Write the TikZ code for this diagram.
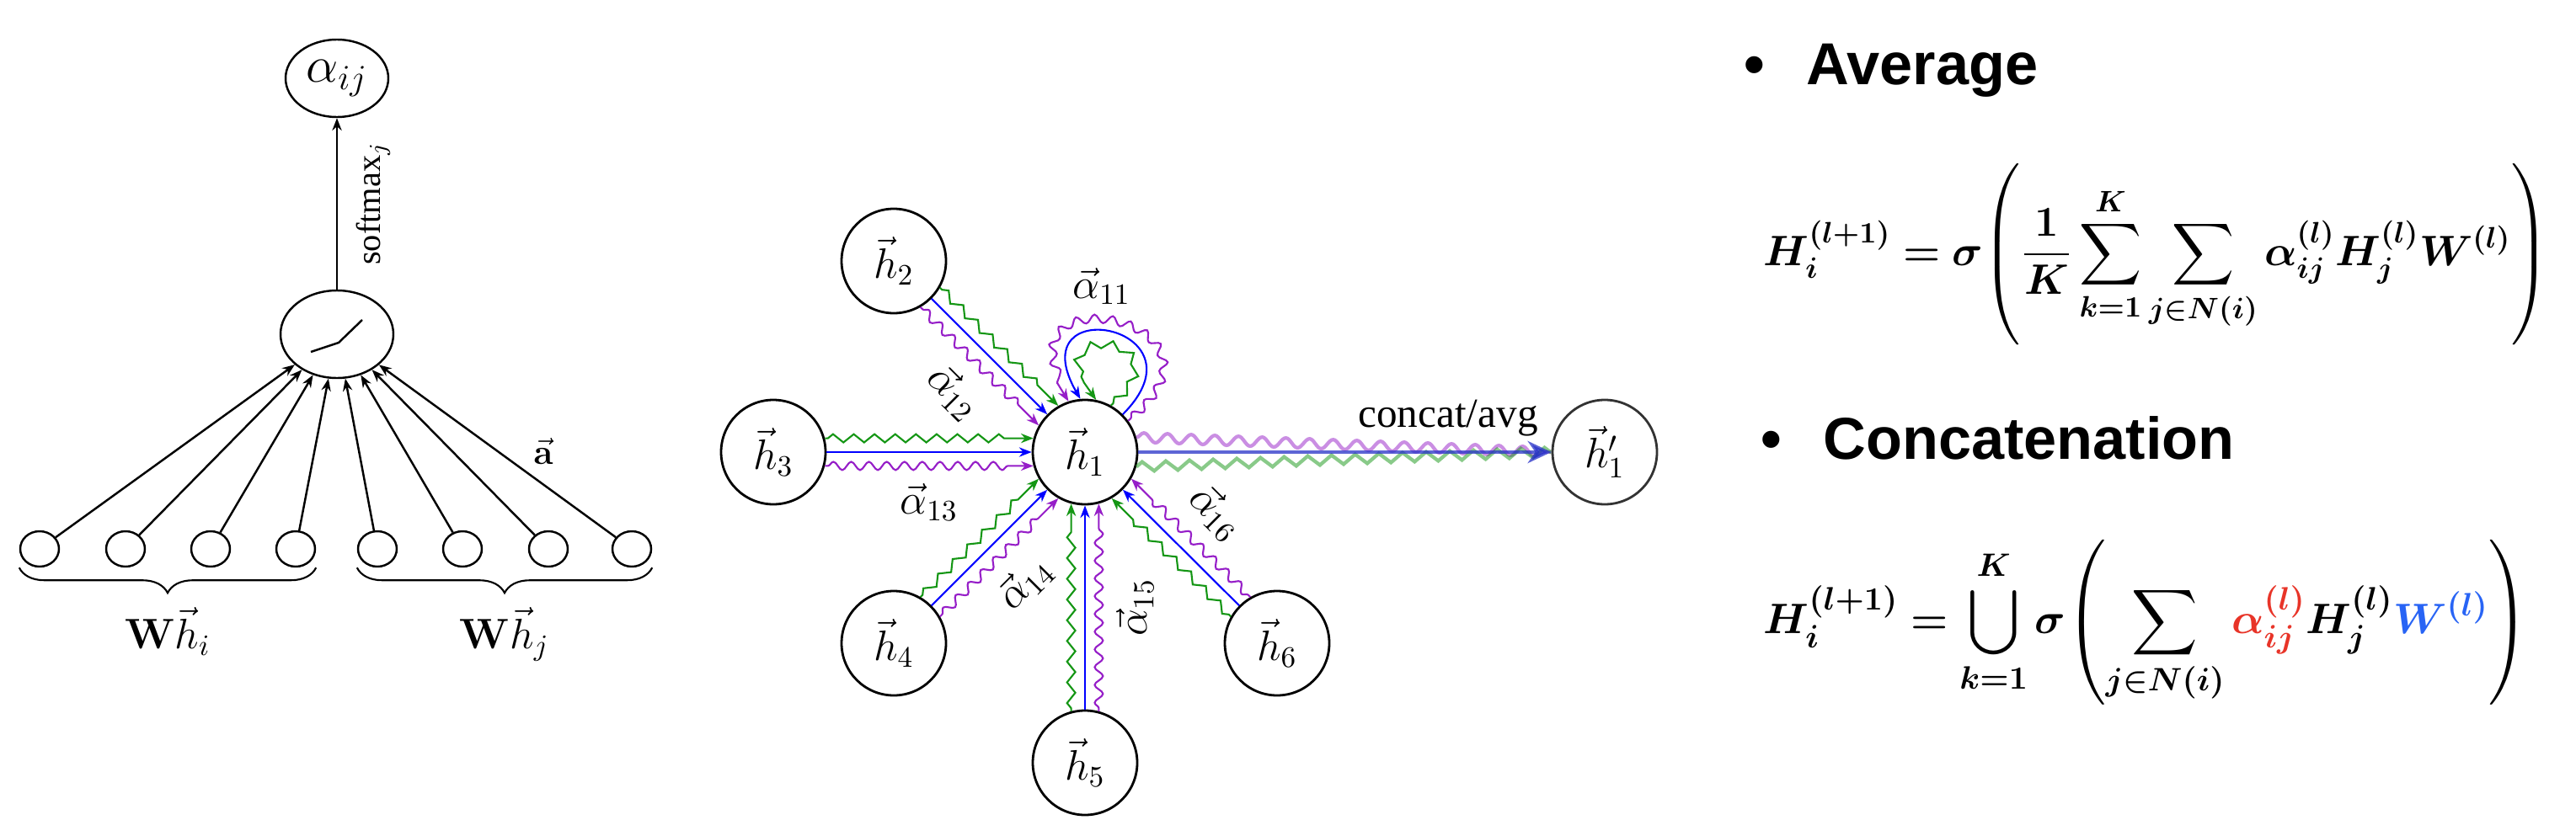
\documentclass[tikz,border=0pt]{standalone}
\usepackage{amsmath}
\usepackage{amssymb}
\usepackage{bm}
\usepackage[no-math]{fontspec}
\setmainfont{Liberation Serif}
\newfontfamily\headfont{Liberation Sans}
\usepackage{tikz}
\usetikzlibrary{arrows.meta}
\usetikzlibrary{shapes.geometric}
\usetikzlibrary{decorations.pathmorphing}
\usetikzlibrary{decorations.pathreplacing}
\tikzset{>={Stealth[length=4.2pt, width=3.2pt]}}
\definecolor{edgegreen}{RGB}{20, 150, 20}
\definecolor{edgeblue}{RGB}{0, 0, 255}
\definecolor{edgepurple}{RGB}{150, 30, 200}
\definecolor{avgblue}{RGB}{40, 50, 200}
\definecolor{catred}{RGB}{232, 52, 40}
\definecolor{catblue}{RGB}{40, 100, 245}
\tikzset{
    neuron/.style={ellipse, draw, line width=0.7pt, inner sep=0pt},
    lbl/.style={font=\fontsize{14}{17}\selectfont},
    hnode/.style={circle, draw, line width=0.8pt, minimum size=1.24cm, inner sep=0pt, font=\fontsize{14.4}{17}\selectfont},
    alphalbl/.style={midway, sloped, text=black, font=\fontsize{14.4}{17}\selectfont},
    attblue/.style={->, edgeblue, line width=0.6pt},
    attgreen/.style={->, edgegreen, line width=0.6pt, decorate, decoration={zigzag, amplitude=1.4pt, segment length=7pt, pre length=1pt, post length=2.5mm}},
    attpurple/.style={->, edgepurple, line width=0.6pt, decorate, decoration={snake, amplitude=1.4pt, segment length=6pt, pre length=1pt, post length=2.5mm}},
    outarrow/.style={-{Stealth[length=8pt, width=7.5pt]}, avgblue, opacity=0.75, line width=1.1pt},
    outgreen/.style={edgegreen, opacity=0.5, line width=1.2pt, decorate, decoration={zigzag, amplitude=1.6pt, segment length=8pt}},
    outpurple/.style={edgepurple, opacity=0.5, line width=1.2pt, decorate, decoration={snake, amplitude=1.6pt, segment length=8pt}},
    bracedec/.style={decorate, decoration={brace, mirror, amplitude=0.3cm}, line width=0.6pt},
    headtxt/.style={font=\headfont\bfseries\fontsize{20}{24}\selectfont, inner sep=0pt, anchor=base west},
    eqtxt/.style={font=\fontsize{15.5}{19}\selectfont, inner sep=0pt, anchor=base west},
}
\newcommand{\attedges}[4]{% {neighbour}{angle to h1}{label}{label side}
    \pgfmathsetmacro{\attga}{#2+15}\pgfmathsetmacro{\attgb}{#2+165}%
    \pgfmathsetmacro{\attpa}{#2-15}\pgfmathsetmacro{\attpb}{#2+195}%
    \draw[attgreen] (#1.\attga) -- (h1.\attgb); % zigzag, left side
    \draw[attblue] (#1) -- node[alphalbl, #4=2.5mm] {#3} (h1); % straight, labelled
    \draw[attpurple] (#1.\attpa) -- (h1.\attpb); % snake, right side
}
% aggregation formulas
\newcommand{\avgformula}{\fontsize{14.6}{18}\selectfont\delimitershortfall=-6pt$\displaystyle \bm{H}_{\bm{i}}^{\bm{(l+1)}} \bm{=} \bm{\sigma}\!\left(\frac{\bm{1}}{\bm{K}}\sum_{\bm{k=1}}^{\bm{K}}\sum_{\bm{j\in N(i)}}\bm{\alpha}_{\bm{ij}}^{\bm{(l)}}\bm{H}_{\bm{j}}^{\bm{(l)}}\bm{W}^{\bm{(l)}}\right)$}
\newcommand{\catformula}{$\displaystyle \bm{H}_{\bm{i}}^{\bm{(l+1)}} \bm{=} \bigcup_{\bm{k=1}}^{\bm{K}}\bm{\sigma}\!\left(\sum_{\bm{j\in N(i)}}{\color{catred}\bm{\alpha}_{\bm{ij}}^{\bm{(l)}}}\bm{H}_{\bm{j}}^{\bm{(l)}}{\color{catblue}\bm{W}^{\bm{(l)}}}\right)$}

\begin{document}
\begin{tikzpicture}

    \fill[white] (0,0) rectangle (30.58,9.92);

    % attention coefficient
    \node[neuron, minimum width=1.22cm, minimum height=0.92cm, font=\fontsize{17}{20}\selectfont] (alpha) at (4.00, 8.99) {$\alpha_{ij}$};
    \node[neuron, minimum width=1.34cm, minimum height=1.04cm] (relu) at (4.00, 5.95) {};
    \draw[line width=0.7pt] (relu) ++(-0.31,-0.21) -- ++(0.33,0.11) -- ++(0.28,0.27);

    \node[neuron, minimum width=0.46cm, minimum height=0.42cm] (in1) at (0.47, 3.40) {};
    \node[neuron, minimum width=0.46cm, minimum height=0.42cm] (in2) at (1.49, 3.40) {};
    \node[neuron, minimum width=0.46cm, minimum height=0.42cm] (in3) at (2.50, 3.40) {};
    \node[neuron, minimum width=0.46cm, minimum height=0.42cm] (in4) at (3.51, 3.40) {};
    \node[neuron, minimum width=0.46cm, minimum height=0.42cm] (in5) at (4.48, 3.40) {};
    \node[neuron, minimum width=0.46cm, minimum height=0.42cm] (in6) at (5.49, 3.40) {};
    \node[neuron, minimum width=0.46cm, minimum height=0.42cm] (in7) at (6.51, 3.40) {};
    \node[neuron, minimum width=0.46cm, minimum height=0.42cm] (in8) at (7.50, 3.40) {};

    \draw[->, line width=0.7pt] (in1) -- (relu);
    \draw[->, line width=0.7pt] (in2) -- (relu);
    \draw[->, line width=0.7pt] (in3) -- (relu);
    \draw[->, line width=0.7pt] (in4) -- (relu);
    \draw[->, line width=0.7pt] (in5) -- (relu);
    \draw[->, line width=0.7pt] (in6) -- (relu);
    \draw[->, line width=0.7pt] (in7) -- (relu);
    \draw[->, line width=0.7pt] (in8) -- node[midway, right=3mm, font=\fontsize{13}{16}\selectfont] {$\vec{\mathbf{a}}$} (relu);
    \draw[->, line width=0.7pt] (relu) -- node[midway, sloped, below=1mm, font=\fontsize{11.5}{14}\selectfont] {softmax$_j$} (alpha);

    \draw[bracedec] (in1.west |- in1.south) -- node[lbl, below=3.4mm] {$\mathbf{W}\vec{h}_i$} (in4.east |- in4.south);
    \draw[bracedec] (in5.west |- in5.south) -- node[lbl, below=3.4mm] {$\mathbf{W}\vec{h}_j$} (in8.east |- in8.south);

    % multi-head attention on h1
    \node[hnode] (h1) at (12.88, 4.55) {$\vec{h}_1$};
    \node[hnode] (h2) at (10.61, 6.82) {$\vec{h}_2$};
    \node[hnode] (h3) at (9.18, 4.55) {$\vec{h}_3$};
    \node[hnode] (h4) at (10.61, 2.28) {$\vec{h}_4$};
    \node[hnode] (h5) at (12.88, 0.86) {$\vec{h}_5$};
    \node[hnode] (h6) at (15.16, 2.28) {$\vec{h}_6$};
    \node[hnode, draw=black!80] (h1p) at (19.05, 4.55) {$\vec{h}'_1$};

    \attedges{h2}{-45}{$\vec{\alpha}_{12}$}{below}
    \attedges{h3}{0}{$\vec{\alpha}_{13}$}{below}
    \attedges{h4}{45}{$\vec{\alpha}_{14}$}{below}
    \attedges{h5}{90}{$\vec{\alpha}_{15}$}{below}
    \attedges{h6}{135}{$\vec{\alpha}_{16}$}{above}

    % self loops
    \draw[attblue] (h1.45) to[out=45, in=120, distance=1.5cm] (h1.95);
    \draw[attgreen] (h1.61) to[out=40, in=130, distance=1.3cm] (h1.78);
    \draw[attpurple] (h1.36) to[out=40, in=125, distance=1.9cm] (h1.108);
    \node[font=\fontsize{14.4}{17}\selectfont] (a11) at (13.08, 6.52) {$\vec{\alpha}_{11}$};

    \draw[outpurple] (h1.16) -- (h1p.west);
    \draw[outgreen] (h1.-16) -- (h1p.west);
    \draw[outarrow] (h1) -- node[pos=0.75, above=0.5mm, text=black, text opacity=1, font=\fontsize{14}{17}\selectfont] {concat/avg} (h1p);

    % aggregation of the heads
    \node[headtxt] (avg) at (20.70, 8.92) {\textbullet\hspace{0.7em}Average};
    \node[eqtxt] (avgeq) at (20.93, 6.77) {\avgformula};
    \node[headtxt] (cat) at (20.90, 4.47) {\textbullet\hspace{0.7em}Concatenation};
    \node[eqtxt] (cateq) at (20.93, 2.40) {\catformula};

\end{tikzpicture}
\end{document}
